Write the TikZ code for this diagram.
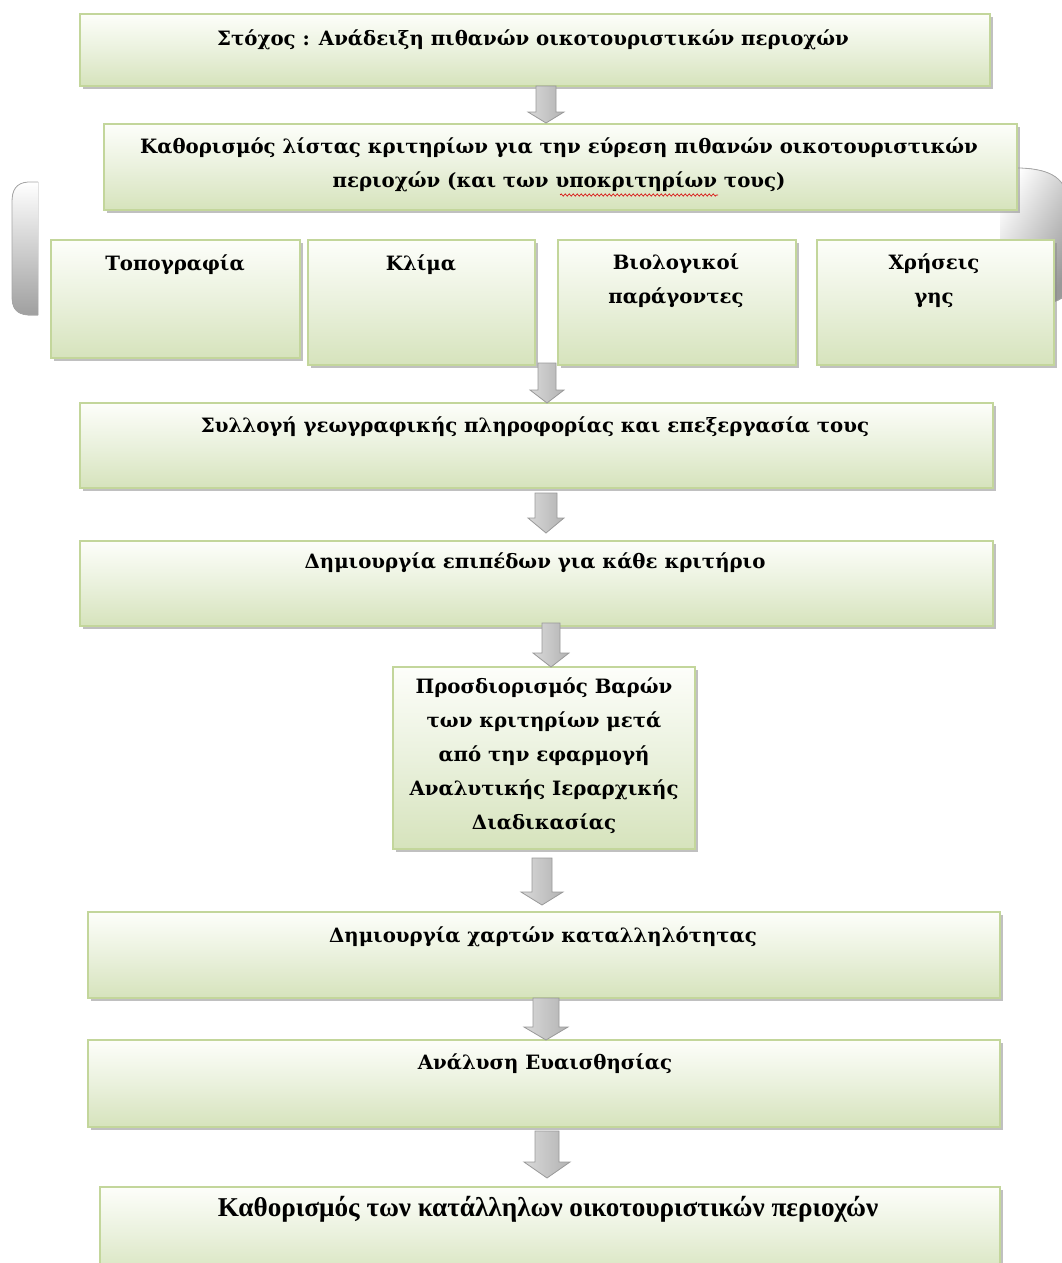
\documentclass[tikz,border=0pt]{standalone}
\usepackage{fontspec}
\setmainfont{DejaVu Serif}
\newfontfamily\timesfont{Liberation Serif}
\usetikzlibrary{fit,shadows,calc,decorations.pathmorphing}
\definecolor{bdr}{HTML}{C3D69B}
\definecolor{gtop}{HTML}{FDFEFA}
\definecolor{gmid}{HTML}{EAF1DD}
\definecolor{gbot}{HTML}{D6E3BC}
\newcommand\blockarrow[6]{% cx, top, headtop, tip, shaft half, head half
  \path[barrowstyle] ({#1-#5},#2) -- ({#1+#5},#2) -- ({#1+#5},#3) -- ({#1+#6},#3)
    -- (#1,#4) -- ({#1-#6},#3) -- ({#1-#5},#3) -- cycle;}
\begin{document}
\begin{tikzpicture}[x=0.75pt,y=-0.75pt,
  box/.style={draw=bdr, line width=0.8pt, inner sep=0pt,
    top color=gtop, bottom color=gbot, middle color=gmid,
    drop shadow={shadow xshift=2.2pt, shadow yshift=-2.2pt, fill=black!45, opacity=0.55}},
  txt/.style={font=\fontsize{14.8pt}{25.5pt}\selectfont\bfseries, align=center, inner sep=0pt, text=black},
  barrowstyle/.style={draw=gray!80, line width=0.6pt, left color=gray!30, middle color=white, right color=gray!60},
  deco/.style={draw=gray!70, line width=0.6pt}]
\useasboundingbox (0,0) rectangle (1062,1263);
% decorative grey shapes behind the criteria row
\fill[top color=white, bottom color=gray!75] (38,182) -- (28,182) .. controls (16,183) and (12,190) .. (12,202)
  -- (12,296) .. controls (12,308) and (16,314) .. (28,315) -- (38,315) -- cycle;
\draw[deco] (38,182) -- (28,182) .. controls (16,183) and (12,190) .. (12,202)
  -- (12,296) .. controls (12,308) and (16,314) .. (28,315) -- (38,315);
\fill[left color=white, right color=gray!80, shading angle=60] (1000,168) -- (1020,168) .. controls (1050,169) and (1068,178) .. (1068,205)
  -- (1068,280) .. controls (1068,298) and (1060,303) .. (1040,303) -- (1000,303) -- cycle;
\draw[deco] (1000,168) -- (1020,168) .. controls (1050,169) and (1068,178) .. (1068,205)
  -- (1068,280) .. controls (1068,298) and (1060,303) .. (1040,303) -- (1000,303);
% boxes
\node[box, fit={(80,14) (990,86)}] (b1) {};
\node[box, fit={(104,124) (1017,210)}] (b2) {};
\node[box, fit={(51,240) (300,358)}] (c1) {};
\node[box, fit={(308,240) (535,365)}] (c2) {};
\node[box, fit={(558,240) (796,365)}] (c3) {};
\node[box, fit={(817,240) (1054,365)}] (c4) {};
\node[box, fit={(80,403) (993,488)}] (b3) {};
\node[box, fit={(80,541) (993,626)}] (b4) {};
\node[box, fit={(393,667) (695,849)}] (b5) {};
\node[box, fit={(88,912) (1000,998)}] (b6) {};
\node[box, fit={(88,1040) (1000,1127)}] (b7) {};
\node[box, fit={(100,1187) (1000,1280)}] (b8) {};
% texts
\node[txt] (t1) at (533,40) {Στόχος : Ανάδειξη πιθανών οικοτουριστικών περιοχών};
\node[txt] (t2) at (559,165) {Καθορισμός λίστας κριτηρίων για την εύρεση πιθανών οικοτουριστικών\\περιοχών (και των υποκριτηρίων τους)};
\node[txt] (tc1) at (175,265) {Τοπογραφία};
\node[txt] (tc2) at (421,265) {Κλίμα};
\node[txt] (tc3) at (676,281) {Βιολογικοί\\παράγοντες};
\node[txt] (tc4) at (934,281) {Χρήσεις\\γης};
\node[txt] (t3) at (535,427) {Συλλογή γεωγραφικής πληροφορίας και επεξεργασία τους};
\node[txt] (t4) at (535,563) {Δημιουργία επιπέδων για κάθε κριτήριο};
\node[txt] (t5) at (544,756) {Προσδιορισμός Βαρών\\των κριτηρίων μετά\\από την εφαρμογή\\Αναλυτικής Ιεραρχικής\\Διαδικασίας};
\node[txt] (t6) at (543,937) {Δημιουργία χαρτών καταλληλότητας};
\node[txt] (t7) at (545,1064) {Ανάλυση Ευαισθησίας};
\node[txt, font=\fontsize{20.4pt}{24pt}\selectfont\timesfont\bfseries] (t8) at (548,1209) {Καθορισμός των κατάλληλων οικοτουριστικών περιοχών};
% spell-check underline
\draw[red!85!black, line width=0.5pt, decorate, decoration={snake, amplitude=0.8pt, segment length=3pt}] (560,195) -- (718,195);
% block arrows
\blockarrow{546}{86}{112}{123}{10}{18}
\blockarrow{547}{363}{390}{403}{9}{17}
\blockarrow{546}{493}{518}{533}{11}{18}
\blockarrow{551}{623}{653}{667}{9}{18}
\blockarrow{542}{858}{892}{905}{10}{21}
\blockarrow{546}{998}{1027}{1040}{13}{22}
\blockarrow{547}{1131}{1162}{1178}{12}{23}
\end{tikzpicture}
\end{document}
